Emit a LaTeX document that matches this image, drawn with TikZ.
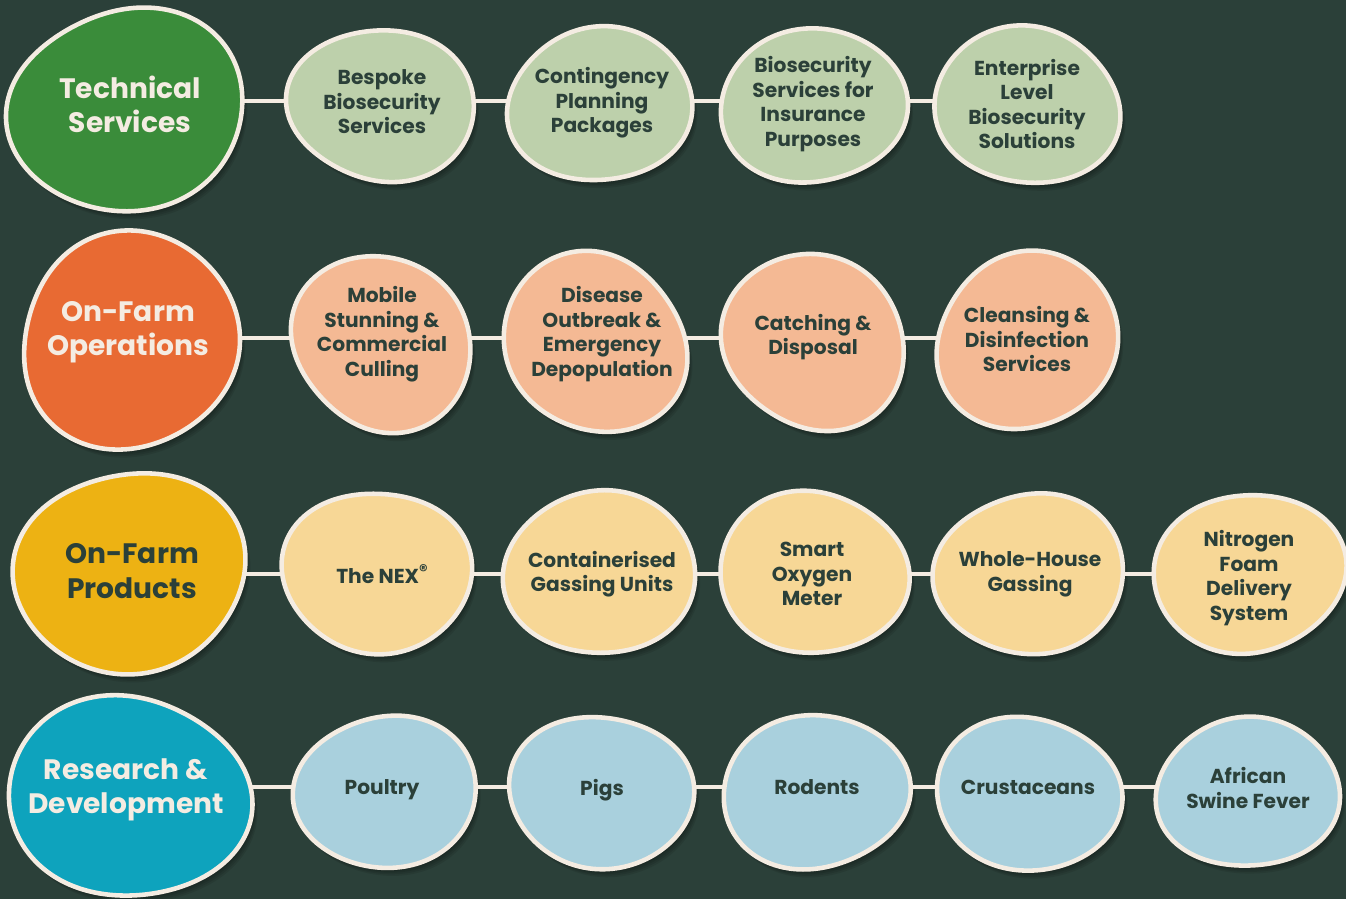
\documentclass[tikz,border=0pt]{standalone}
\usepackage{fontspec}
\setmainfont{Poppins}
\usepackage{tikz}
\usepackage{xcolor}
\usetikzlibrary{calc}

\definecolor{board}{HTML}{2B4039}
\definecolor{creamline}{HTML}{F4ECE2}
\definecolor{techgreen}{HTML}{3A8C3A}
\definecolor{sage}{HTML}{BDD0AB}
\definecolor{farmorange}{HTML}{E86A33}
\definecolor{peach}{HTML}{F4B994}
\definecolor{mustard}{HTML}{EDB213}
\definecolor{butter}{HTML}{F7D796}
\definecolor{rdteal}{HTML}{0EA3BD}
\definecolor{skyblue}{HTML}{A9D0DD}

\pgfdeclarelayer{backdrop}
\pgfdeclarelayer{shades}
\pgfdeclarelayer{links}
\pgfdeclarelayer{blobs}
\pgfsetlayers{backdrop,shades,links,blobs,main}

% blob: centre, rx, ry, oval amount, oval angle, lobe amount, lobe angle, fill
\newcommand\blob[8]{%
  \begin{pgfonlayer}{shades}
    \foreach \s in {2,4,6,8,10}
      \fill[black, opacity=.09, shift={(#1)}, shift={(.5*\s,.8*\s)}] plot[blobplot]
        ({#2*cos(\t)*(1+#4*cos(2*(\t-#5))+#6*cos(3*(\t-#7)))},
         {#3*sin(\t)*(1+#4*cos(2*(\t-#5))+#6*cos(3*(\t-#7)))});
  \end{pgfonlayer}
  \begin{pgfonlayer}{blobs}
    \draw[blobline, fill=#8, shift={(#1)}] plot[blobplot]
      ({#2*cos(\t)*(1+#4*cos(2*(\t-#5))+#6*cos(3*(\t-#7)))},
       {#3*sin(\t)*(1+#4*cos(2*(\t-#5))+#6*cos(3*(\t-#7)))});
  \end{pgfonlayer}}

\begin{document}
\begin{tikzpicture}[x=0.02cm, y=-0.02cm,
    blobplot/.style={smooth cycle, domain=0:355, samples=72, variable=\t},
    blobline/.style={draw=creamline, line width=2.6pt},
    link/.style={draw=creamline, line width=2.8pt},
    headtext/.style={align=center, font=\bfseries\fontsize{16}{19.5}\selectfont},
    itemtext/.style={align=center, text=board, font=\bfseries\fontsize{11.5}{14}\selectfont}]

\useasboundingbox (0,0) rectangle (1346,899);
\begin{pgfonlayer}{backdrop}
  \fill[board] (0,0) rectangle (1346,899);
\end{pgfonlayer}

% row 1
\node[headtext, text=creamline] (tech) at (130,104) {Technical\\Services};
\node[itemtext] (bespoke) at (382,102) {Bespoke\\Biosecurity\\Services};
\node[itemtext] (conting) at (602,103) {Contingency\\Planning\\Packages};
\node[itemtext] (insure) at (813,104) {Biosecurity\\Services for\\Insurance\\Purposes};
\node[itemtext] (enterp) at (1027,104) {Enterprise\\Level\\Biosecurity\\Solutions};

% row 2
\node[headtext, text=creamline] (ops) at (128,332) {On-Farm\\Operations};
\node[itemtext] (mobile) at (382,334) {Mobile\\Stunning \&\\Commercial\\Culling};
\node[itemtext] (disease) at (602,334) {Disease\\Outbreak \&\\Emergency\\Depopulation};
\node[itemtext] (catching) at (813,337) {Catching \&\\Disposal};
\node[itemtext] (cleansing) at (1027,339) {Cleansing \&\\Disinfection\\Services};

% row 3
\node[headtext, text=board] (prod) at (132,571) {On-Farm\\Products};
\node[itemtext] (nex) at (382,574) {The NEX{\fontsize{9.5}{9.5}\selectfont\raisebox{.4em}{\textregistered}}};
\node[itemtext] (contain) at (602,574) {Containerised\\Gassing Units};
\node[itemtext] (smart) at (812,574) {Smart\\Oxygen\\Meter};
\node[itemtext] (whole) at (1030,574) {Whole-House\\Gassing};
\node[itemtext] (nitro) at (1249,578) {Nitrogen\\Foam\\Delivery\\System};

% row 4
\node[headtext, text=creamline] (rd) at (126,790) {Research \&\\Development};
\node[itemtext] (poultry) at (382,790) {Poultry};
\node[itemtext] (pigs) at (602,790) {Pigs};
\node[itemtext] (rodents) at (817,787) {Rodents};
\node[itemtext] (crust) at (1028,787) {Crustaceans};
\node[itemtext] (african) at (1248,788) {African\\Swine Fever};

\begin{pgfonlayer}{links}
  \draw[link] (tech.center |- 0,101) -- (enterp.center |- 0,101);
  \draw[link] (ops.center |- 0,338) -- (cleansing.center |- 0,338);
  \draw[link] (prod.center |- 0,574) -- (nitro.center |- 0,574);
  \draw[link] (rd.center |- 0,787) -- (african.center |- 0,787);
\end{pgfonlayer}

\blob{127,110}{117}{102}{.04}{-40}{.025}{60}{techgreen}
\blob{382,105}{91}{78}{.04}{20}{.025}{190}{sage}
\blob{600,105}{91}{78}{.03}{150}{.025}{30}{sage}
\blob{813,106}{91}{79}{.035}{-20}{.02}{250}{sage}
\blob{1027,106}{92}{79}{.035}{40}{.025}{150}{sage}

\blob{130,341}{111}{106}{.04}{110}{.025}{10}{farmorange}
\blob{382,343}{90}{87}{.06}{50}{.02}{200}{peach}
\blob{595,343}{92}{89}{.06}{50}{.02}{150}{peach}
\blob{814,342}{91}{88}{.05}{45}{.02}{300}{peach}
\blob{1027,341}{91}{88}{.05}{130}{.02}{20}{peach}

\blob{130,572}{114}{102}{.035}{150}{.025}{80}{mustard}
\blob{377,572}{92}{83}{.035}{10}{.025}{210}{butter}
\blob{600,573}{93}{84}{.035}{170}{.02}{40}{butter}
\blob{813,573}{92}{83}{.035}{20}{.025}{130}{butter}
\blob{1030,574}{93}{82}{.03}{160}{.025}{300}{butter}
\blob{1249,573}{93}{82}{.045}{-20}{.02}{100}{butter}

\blob{128,797}{118}{103}{.04}{20}{.025}{250}{rdteal}
\blob{386,792}{89}{78}{.035}{160}{.02}{60}{skyblue}
\blob{601,792}{90}{78}{.035}{20}{.02}{220}{skyblue}
\blob{815,792}{92}{78}{.03}{150}{.025}{0}{skyblue}
\blob{1028,794}{91}{78}{.035}{30}{.02}{120}{skyblue}
\blob{1248,793}{89}{77}{.035}{170}{.025}{270}{skyblue}

\end{tikzpicture}
\end{document}
